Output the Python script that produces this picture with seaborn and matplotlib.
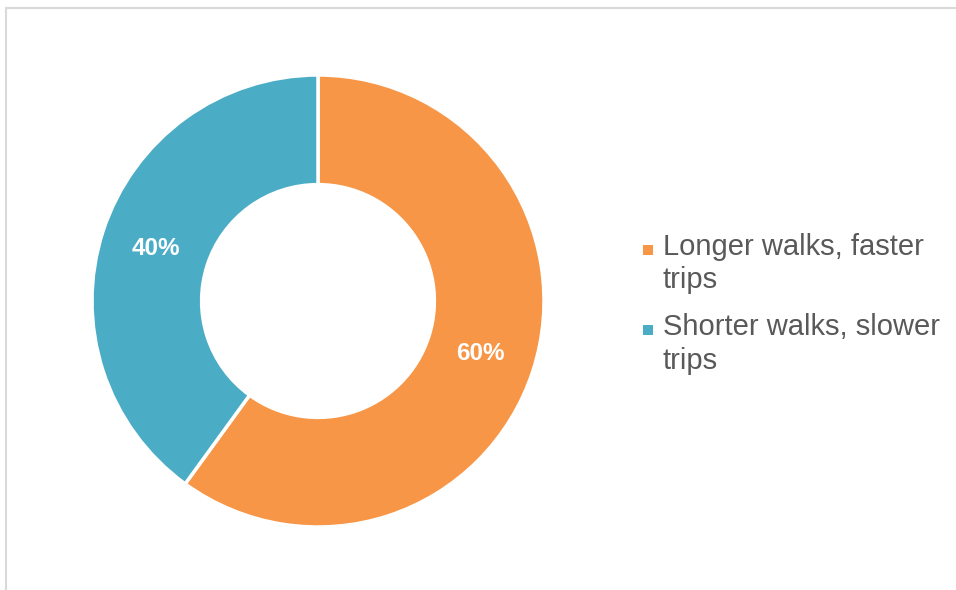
import matplotlib
matplotlib.use("Agg")
import matplotlib.pyplot as plt
from matplotlib.patches import Rectangle, Wedge
from matplotlib.legend_handler import HandlerPatch
import seaborn as sns

# Share of trips by trade-off chosen
categories = ["Longer walks, faster\ntrips", "Shorter walks, slower\ntrips"]
shares = [60, 40]
palette = ["#F79646", "#4BACC6"]

sns.set_theme(style="white")
plt.rcParams["font.family"] = ["Liberation Sans", "DejaVu Sans"]

W, H = 956, 590
fig = plt.figure(figsize=(W / 100, H / 100), dpi=100)
fig.patch.set_facecolor("white")

# Light frame around the chart area (open to the right and bottom)
fig.patches.append(Rectangle((6 / W, -0.2), 1.5, 1.2 - 7.5 / H,
                             transform=fig.transFigure, fill=False,
                             edgecolor="#D9D9D9", linewidth=1.5, zorder=0))

cx, cy, r = 318, 301, 226
ax = fig.add_axes([(cx - r) / W, (H - cy - r) / H, 2 * r / W, 2 * r / H])

wedges, _, autotexts = ax.pie(
    shares,
    colors=palette,
    startangle=90,
    counterclock=False,
    radius=1,
    autopct=lambda p: f"{p:.0f}%",
    pctdistance=0.755,
    wedgeprops=dict(width=0.485, edgecolor="white", linewidth=2.5),
    textprops=dict(color="white", fontsize=17.5, fontweight="bold"),
)
ax.set_xlim(-1, 1)
ax.set_ylim(-1, 1)
ax.set_aspect("equal")
ax.axis("off")


class SquareHandler(HandlerPatch):
    """Borderless square marker beside the first line of a two-line label."""

    def update_prop(self, legend_handle, orig_handle, legend):
        super().update_prop(legend_handle, orig_handle, legend)
        legend_handle.set_edgecolor("none")
        legend_handle.set_linewidth(0)


def square_handle(legend, orig_handle, xdescent, ydescent, width, height, fontsize):
    return Rectangle((-xdescent, -ydescent + 11.5), width, width)


leg = fig.legend(
    wedges,
    categories,
    loc="upper left",
    bbox_to_anchor=(628 / W, 1 - 218 / H),
    frameon=False,
    fontsize=21,
    labelcolor="#595959",
    handlelength=0.34,
    handleheight=0.34,
    handletextpad=0.35,
    labelspacing=0.65,
    borderpad=0,
    handler_map={Wedge: SquareHandler(patch_func=square_handle)},
)
for t in leg.get_texts():
    t.set_linespacing(1.25)

fig.savefig("out.png", dpi=100, facecolor="white")
